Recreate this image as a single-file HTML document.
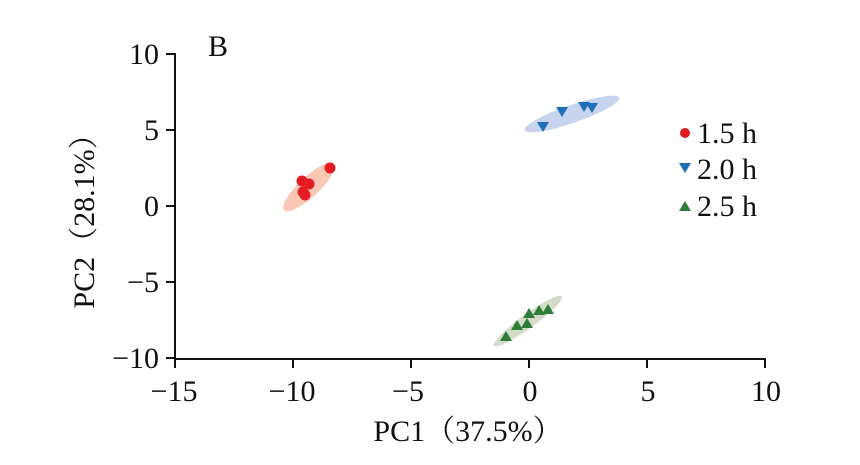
<!DOCTYPE html><html><head><style>body{margin:0;background:#fff}svg{display:block}svg text{font-family:"Liberation Serif","Noto Serif CJK SC",serif;font-size:30px;fill:#111}</style></head><body>
<svg width="860" height="465" viewBox="0 0 860 465">
<g stroke="#111" stroke-width="2" fill="none">
<line x1="175" y1="53" x2="175" y2="359"/><line x1="174" y1="359" x2="766" y2="359"/>
<line x1="166" y1="54" x2="175" y2="54"/><line x1="166" y1="130" x2="175" y2="130"/><line x1="166" y1="206" x2="175" y2="206"/><line x1="166" y1="282" x2="175" y2="282"/><line x1="166" y1="358" x2="175" y2="358"/>
<line x1="175" y1="359" x2="175" y2="368"/><line x1="293" y1="359" x2="293" y2="368"/><line x1="411" y1="359" x2="411" y2="368"/><line x1="529" y1="359" x2="529" y2="368"/><line x1="647" y1="359" x2="647" y2="368"/><line x1="765" y1="359" x2="765" y2="368"/>
</g>
<g text-anchor="end">
<text x="159" y="64">10</text><text x="159" y="140">5</text><text x="159" y="216">0</text><text x="159" y="292">−5</text><text x="159" y="368">−10</text>
</g>
<g text-anchor="middle">
<text x="174" y="401">−15</text><text x="292" y="401">−10</text><text x="408" y="401">−5</text><text x="530" y="401">0</text><text x="648" y="401">5</text><text x="766" y="401">10</text>
<text x="468" y="441">PC1（37.5%）</text>
<text transform="translate(94,214) rotate(-90)">PC2（28.1%）</text>
</g>
<text x="208" y="56">B</text>
<ellipse cx="309" cy="187" rx="34" ry="10" transform="rotate(-43 309 187)" fill="#f8c8b4"/>
<ellipse cx="572" cy="114" rx="50" ry="9" transform="rotate(-19 572 114)" fill="#c8d4ee"/>
<ellipse cx="528" cy="321" rx="42" ry="7" transform="rotate(-36 528 321)" fill="#d4dcc8"/>
<g fill="#e31c24"><circle cx="330" cy="168" r="5.5"/><circle cx="302" cy="181" r="5.5"/><circle cx="309" cy="184" r="5.5"/><circle cx="303" cy="192" r="5.5"/><circle cx="305" cy="195" r="5.5"/><circle cx="685" cy="133" r="5"/></g>
<g fill="#1f6fb8">
<path d="M537 122h12l-6 10z"/><path d="M556 107h12l-6 10z"/><path d="M578 102h12l-6 10z"/><path d="M586 103h12l-6 10z"/><path d="M679 163h12l-6 10z"/></g>
<g fill="#2e7d3a">
<path d="M506 331l6 10h-12z"/><path d="M517 320l6 10h-12z"/><path d="M527 318l6 10h-12z"/><path d="M529 308l6 10h-12z"/><path d="M539 305l6 10h-12z"/><path d="M548 304l6 10h-12z"/><path d="M685 201l6 10h-12z"/></g>
<g><text x="697" y="143">1.5 h</text><text x="697" y="179">2.0 h</text><text x="697" y="216">2.5 h</text></g>
</svg></body></html>
